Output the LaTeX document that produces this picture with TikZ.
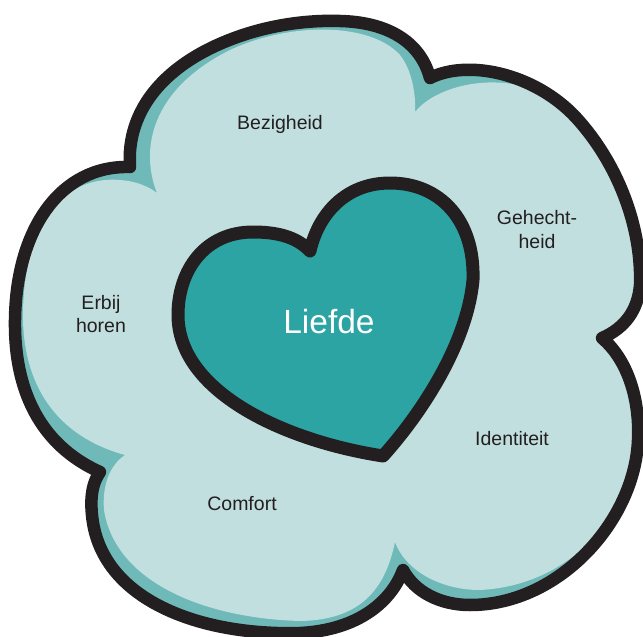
\documentclass[tikz,border=0pt]{standalone}
\usepackage{fontspec}
\setmainfont{Liberation Sans}

\definecolor{rand}{HTML}{231F20}
\definecolor{wolk}{HTML}{C2DFDF}
\definecolor{schaduw}{HTML}{6FBAB9}
\definecolor{hart}{HTML}{2BA4A3}

\def\wolkpad{(130,167) .. controls (126,110) and (165,62) .. (240,36)
  .. controls (275,24) and (310,20) .. (340,21)
  .. controls (385,22) and (420,40) .. (430,78)
  .. controls (470,58) and (540,75) .. (580,122)
  .. controls (620,168) and (642,230) .. (640,285)
  .. controls (638,310) and (625,328) .. (602,338)
  .. controls (628,360) and (640,400) .. (638,440)
  .. controls (635,520) and (560,605) .. (470,605)
  .. controls (440,605) and (415,592) .. (403,570)
  .. controls (392,600) and (360,630) .. (300,633)
  .. controls (200,636) and (100,600) .. (92,515)
  .. controls (90,495) and (93,482) .. (100,472)
  .. controls (40,445) and (14,390) .. (15,320)
  .. controls (16,230) and (60,165) .. (130,167) -- cycle}

\begin{document}
\begin{tikzpicture}[x=1pt,y=-1pt]
  \useasboundingbox (0,0) rectangle (643,637);

  \fill[schaduw] \wolkpad;
  \fill[wolk] (157,193) .. controls (140,150) and (150,90) .. (230,50)
    .. controls (290,22) and (370,22) .. (400,55)
    .. controls (412,70) and (416,95) .. (415,112)
    .. controls (440,80) and (530,62) .. (580,122)
    .. controls (620,168) and (642,230) .. (640,285)
    .. controls (638,310) and (625,328) .. (602,338)
    .. controls (628,360) and (640,400) .. (638,440)
    .. controls (636,500) and (580,585) .. (480,590)
    .. controls (440,590) and (405,570) .. (395,542)
    .. controls (385,590) and (360,620) .. (300,621)
    .. controls (200,618) and (115,580) .. (104,510)
    .. controls (102,485) and (110,465) .. (125,455)
    .. controls (70,440) and (25,400) .. (23,320)
    .. controls (22,230) and (60,175) .. (120,180)
    .. controls (135,181) and (148,186) .. (157,193) -- cycle;
  \draw[rand,line width=12.5pt,line join=round] \wolkpad;

  \draw[rand,fill=hart,line width=13pt,line join=round]
    (310,251) .. controls (296,236) and (275,232) .. (253,232)
    .. controls (205,232) and (178,270) .. (178,315)
    .. controls (178,390) and (280,440) .. (383,456)
    .. controls (420,415) and (467,345) .. (473,280)
    .. controls (475,220) and (440,183) .. (390,183)
    .. controls (345,183) and (318,215) .. (310,251) -- cycle;

  \begin{scope}[every node/.style={text=rand,inner sep=0pt,align=center,
      font=\fontsize{19.5}{23.5}\selectfont}]
    \node[anchor=base] (bezigheid) at (280,129) {Bezigheid};
    \node (gehechtheid) at (537,229.5) {Gehecht-\\heid};
    \node (erbijhoren) at (101,314) {Erbij\\horen};
    \node[anchor=base] (identiteit) at (512,445) {Identiteit};
    \node[anchor=base] (comfort) at (242,510) {Comfort};
  \end{scope}

  \node[anchor=base,text=white,font=\fontsize{33.5}{40}\selectfont] (liefde) at (329,333) {Liefde};

\end{tikzpicture}
\end{document}
